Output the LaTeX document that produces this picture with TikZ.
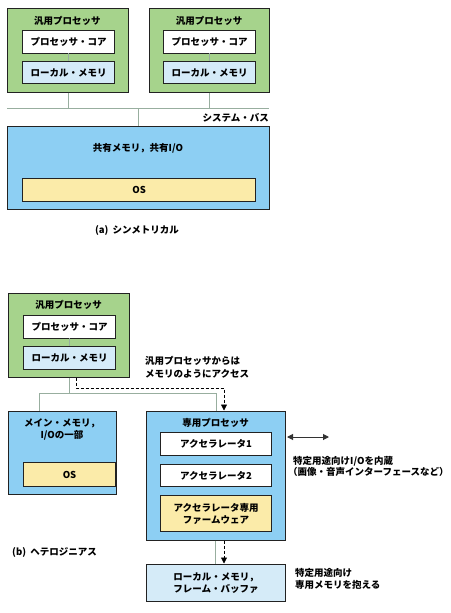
\documentclass[tikz,border=0pt]{standalone}
\usepackage{fontspec}
\setmainfont{Noto Sans CJK JP}
\usetikzlibrary{arrows.meta}
\definecolor{procgreen}{HTML}{A6D38C}
\definecolor{memblue}{HTML}{8DCFF3}
\definecolor{lightblue}{HTML}{D5EBF8}
\definecolor{osyellow}{HTML}{FBEBA9}
\definecolor{linegrey}{HTML}{98AE9F}
\definecolor{edge}{HTML}{222222}
\tikzset{
  box/.style={draw=edge, line width=1.1pt, inner sep=0pt, align=center, font=\fontsize{9.5}{12}\selectfont\bfseries},
  lbl/.style={inner sep=0pt, align=center, font=\fontsize{9.5}{12}\selectfont\bfseries},
  lbll/.style={inner sep=0pt, align=left, anchor=west, font=\fontsize{9.5}{12}\selectfont\bfseries},
  conn/.style={draw=linegrey, line width=1pt},
  dconn/.style={draw=black, line width=0.8pt, dash pattern=on 3pt off 2pt},
  tip/.style={-{Triangle[length=6pt,width=6pt]}},
}
\newcommand{\bx}[6]{% name, x1,y1,x2,y2, style
  \node[box, #6, minimum width={#4-#2}, minimum height={#5-#3}, anchor=north west] (#1) at (#2,-#3) {};}
\begin{document}
\begin{tikzpicture}[x=1pt,y=1pt]
\useasboundingbox (0,0) rectangle (450,-613);
% ---------- (a) ----------
\bx{p1}{7}{8}{128}{92}{fill=procgreen}
\node[lbl] (p1t) at (67.5,-21) {汎用プロセッサ};
\bx{c1}{22}{30}{114}{53}{fill=white}
\node[lbl] at (c1) {プロセッサ・コア};
\bx{m1}{22}{61}{114}{83}{fill=lightblue}
\node[lbl] at (m1) {ローカル・メモリ};
\draw[conn] (68,-53) -- (68,-61);

\bx{p2}{149}{8}{269}{92}{fill=procgreen}
\node[lbl] (p2t) at (209,-21) {汎用プロセッサ};
\bx{c2}{163}{30}{255}{53}{fill=white}
\node[lbl] at (c2) {プロセッサ・コア};
\bx{m2}{163}{61}{255}{83}{fill=lightblue}
\node[lbl] at (m2) {ローカル・メモリ};
\draw[conn] (209,-53) -- (209,-61);

\coordinate (busL) at (7,-108);
\coordinate (busR) at (269,-108);
\draw[conn] (busL) -- (busR);
\draw[conn] (68,-92.6) -- (68,-108);
\draw[conn] (209,-92.6) -- (209,-108);
\draw[conn] (138,-108) -- (138,-126);
\node[lbl, anchor=east] (busl) at (269,-118) {システム・バス};

\bx{sh}{7}{126}{269}{209}{fill=memblue}
\node[lbl] (sht) at (138,-148) {共有メモリ，共有I/O};
\bx{os1}{22}{178}{255}{201}{fill=osyellow}
\node[lbl] at (os1) {OS};
\node[lbl] (capa) at (137,-230) {(a)\ \ シンメトリカル};

% ---------- (b) ----------
\bx{p3}{8}{293}{129}{377}{fill=procgreen}
\node[lbl] (p3t) at (68.5,-305) {汎用プロセッサ};
\bx{c3}{23}{315}{115}{338}{fill=white}
\node[lbl] at (c3) {プロセッサ・コア};
\bx{m3}{23}{346}{115}{369}{fill=lightblue}
\node[lbl] at (m3) {ローカル・メモリ};
\draw[conn] (69,-338) -- (69,-346);

\bx{mm}{8}{411}{116}{494}{fill=memblue}
\node[lbl] (mmt) at (62,-429) {メイン・メモリ，\\I/Oの一部};
\bx{os2}{23}{462}{115}{486}{fill=osyellow}
\node[lbl] at (os2) {OS};

\bx{dp}{146}{411}{285}{540}{fill=memblue}
\node[lbl] (dpt) at (215.5,-423) {専用プロセッサ};
\bx{a1}{160}{432}{271}{455}{fill=white}
\node[lbl] at (a1) {アクセラレータ1};
\bx{a2}{160}{464}{271}{486}{fill=white}
\node[lbl] at (a2) {アクセラレータ2};
\bx{fw}{160}{495}{271}{531}{fill=osyellow}
\node[lbl] at (fw) {アクセラレータ専用\\ファームウェア};

\bx{lm}{146}{564}{285}{601}{fill=lightblue}
\node[lbl] at (lm) {ローカル・メモリ，\\フレーム・バッファ};

% connectors
\draw[conn] (69,-377.6) -- (69,-393);
\draw[conn] (39,-393) -- (216,-393);
\draw[conn] (39,-393) -- (39,-410.5);
\draw[conn] (216,-393) -- (216,-410.5);
\draw[dconn, tip] (76,-377.6) -- (76,-388) -- (224,-388) -- (224,-410.5);
\draw[conn] (215,-540.5) -- (215,-563.5);
\draw[dconn, tip] (224,-540.5) -- (224,-563.5);
\coordinate (ioL) at (287,-437);
\coordinate (ioR) at (329,-437);
\draw[conn, draw=black!80, {Triangle[length=6pt,width=6pt]}-{Triangle[length=6pt,width=6pt]}] (ioL) -- (ioR);

\node[lbll] (acc) at (145,-361) {汎用プロセッサからは};
\node[lbll] (acc2) at (145,-374) {メモリのようにアクセス};
\node[lbll] (io1) at (293,-461) {特定用途向けI/Oを内蔵};
\node[lbll] (io2) at (288,-472) {（画像・音声インターフェースなど）};
\node[lbll] (capb) at (12,-552) {(b)\ \ ヘテロジニアス};
\node[lbll] (sp1) at (295,-573) {特定用途向け};
\node[lbll] (sp2) at (295,-585) {専用メモリを抱える};
\end{tikzpicture}
\end{document}
